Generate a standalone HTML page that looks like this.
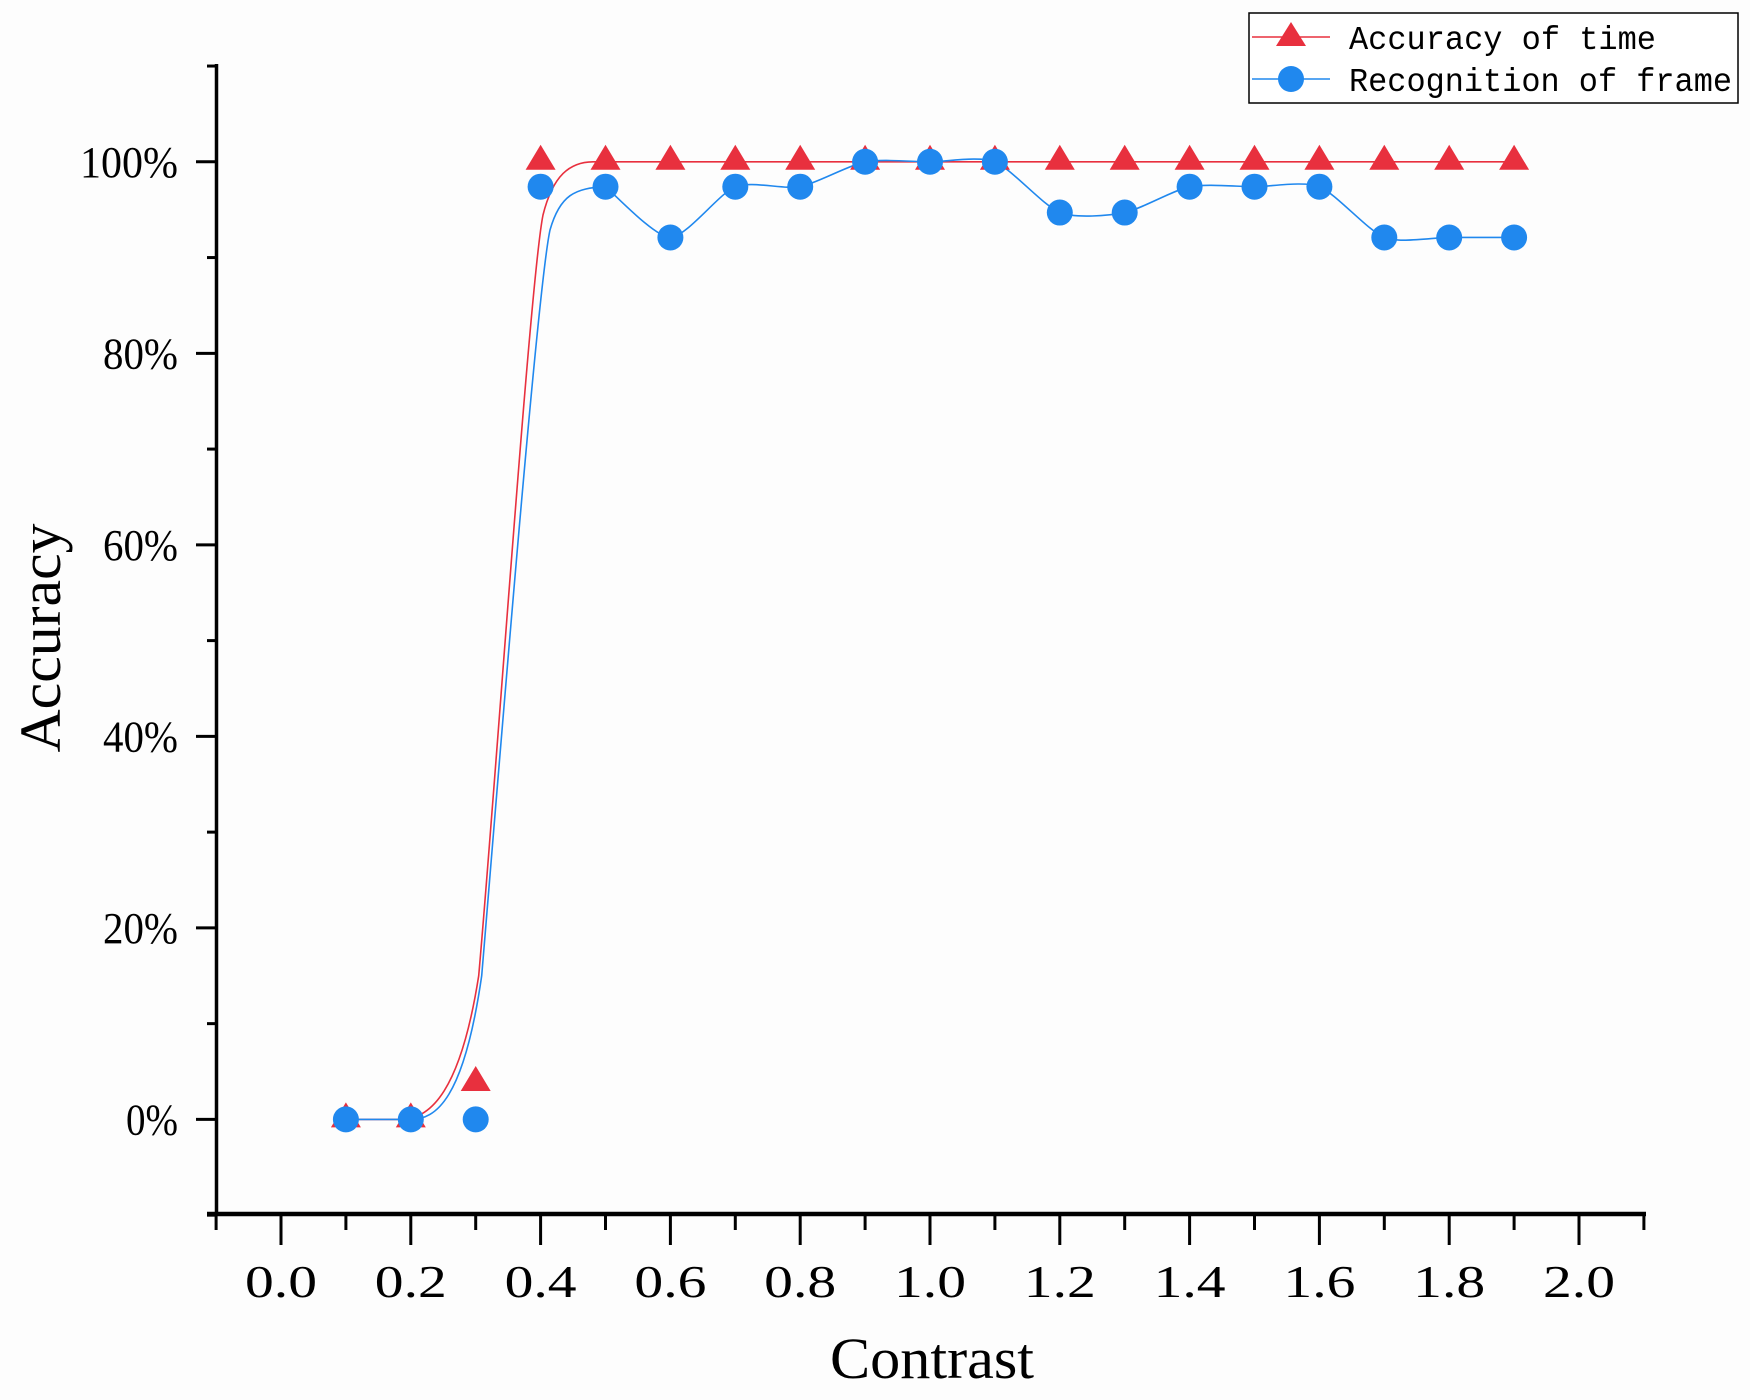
<!DOCTYPE html>
<html><head><meta charset="utf-8"><style>html,body{margin:0;padding:0;background:#fdfdfd}svg{display:block}</style></head>
<body>
<svg id="s" width="1750" height="1400" xmlns="http://www.w3.org/2000/svg">
<rect width="1750" height="1400" fill="#fdfdfd"/>
<g id="ax" stroke="#000" fill="none"></g>
<g id="lbl" font-family="Liberation Serif, serif" fill="#000"></g>
<path id="red" fill="none" stroke="#e8303e" stroke-width="1.6"/>
<path id="blue" fill="none" stroke="#2088ee" stroke-width="1.6"/>
<g id="mk"></g>
<text x="932" y="1378" font-family="Liberation Serif, serif" font-size="58" text-anchor="middle" textLength="204" lengthAdjust="spacingAndGlyphs">Contrast</text>
<text transform="translate(60,638) rotate(-90)" font-family="Liberation Serif, serif" font-size="58" text-anchor="middle" textLength="229" lengthAdjust="spacingAndGlyphs">Accuracy</text>
<rect x="1249" y="13" width="489" height="90" fill="#fff" stroke="#000" stroke-width="1.5"/>
<line x1="1252" y1="37" x2="1330" y2="37" stroke="#e8303e" stroke-width="1.6"/>
<polygon points="1291,22 1306,46 1276,46" fill="#e8303e"/>
<line x1="1252" y1="79" x2="1330" y2="79" stroke="#2088ee" stroke-width="1.6"/>
<circle cx="1291" cy="79" r="13" fill="#2088ee"/>
<text x="1349" y="49" font-family="Liberation Mono, monospace" font-size="33" textLength="307" lengthAdjust="spacingAndGlyphs">Accuracy of time</text>
<text x="1349" y="91" font-family="Liberation Mono, monospace" font-size="33" textLength="383" lengthAdjust="spacingAndGlyphs">Recognition of frame</text>
</svg>
<script>
const NS="http://www.w3.org/2000/svg";
const X=v=>281+649*v, Y=p=>1119.4-9.576*p;
function el(p,t,a,txt){const e=document.createElementNS(NS,t);for(const k in a)e.setAttribute(k,a[k]);if(txt!==undefined)e.textContent=txt;document.getElementById(p).appendChild(e);return e;}
el('ax','line',{x1:216.5,y1:64,x2:216.5,y2:1216,'stroke-width':3.5});
el('ax','line',{x1:207,y1:1214,x2:1646,y2:1214,'stroke-width':4.5});
for(let i=-1;i<=21;i++){const x=X(i/10);const maj=(i%2==0&&i>=0&&i<=20);el('ax','line',{x1:x,y1:1214,x2:x,y2:maj?1245:1230,'stroke-width':3});}
for(let p=-10;p<=110;p+=10){const y=Y(p);const maj=(p%20==0&&p>=0&&p<=100);el('ax','line',{x1:maj?196:207,y1:y,x2:216.5,y2:y,'stroke-width':3});}
for(let p=0;p<=100;p+=20){el('lbl','text',{x:178,y:Y(p)+15,'font-size':44,'text-anchor':'end',textLength:(p==100?98:p==0?52:75),lengthAdjust:'spacingAndGlyphs'},p+'%');}
for(let i=0;i<=10;i++){el('lbl','text',{x:X(i/5),y:1297,'font-size':46,'text-anchor':'middle',textLength:72,lengthAdjust:'spacingAndGlyphs'},(i/5).toFixed(1));}
const xs=[];for(let i=1;i<=19;i++)xs.push(i/10);
const red=[0,0,3.8,100,100,100,100,100,100,100,100,100,100,100,100,100,100,100,100];
const blue=[0,0,0,97.4,97.4,92.1,97.4,97.4,100,100,100,94.7,94.7,97.4,97.4,97.4,92.1,92.1,92.1];
document.getElementById('red').setAttribute('d',
`M${X(.1)} ${Y(0)} L${X(.2)-10} ${Y(0)} C${X(.2)+20} ${Y(0)}, ${X(.3)-15} ${Y(3)}, ${X(.3)+3} ${Y(15)} C${X(.3)+20} ${Y(35)}, 530 280, 543 215 C553 175, 570 162, 593 ${Y(100)} L${X(1.9)} ${Y(100)}`);
let pts=[];for(let i=4;i<19;i++)pts.push([X(xs[i]),Y(blue[i])]);
let d=`M${X(.1)} ${Y(0)} L${X(.2)} ${Y(0)} C${X(.2)+25} ${Y(0)}, ${X(.3)-12} ${Y(2)}, ${X(.3)+6} ${Y(15)} C${X(.3)+22} ${Y(35)}, 537 290, 550 230 C560 195, 575 188, ${pts[0][0]} ${pts[0][1]}`;
for(let i=0;i<pts.length-1;i++){const p0=pts[Math.max(0,i-1)],p1=pts[i],p2=pts[i+1],p3=pts[Math.min(pts.length-1,i+2)];
const t=0.12;
d+=` C${p1[0]+(p2[0]-p0[0])*t} ${p1[1]+(p2[1]-p0[1])*t}, ${p2[0]-(p3[0]-p1[0])*t} ${p2[1]-(p3[1]-p1[1])*t}, ${p2[0]} ${p2[1]}`;}
document.getElementById('blue').setAttribute('d',d);
for(let i=0;i<19;i++){const x=X(xs[i]),y=Y(red[i]);el('mk','polygon',{points:`${x},${y-17} ${x+15},${y+8} ${x-15},${y+8}`,fill:'#e8303e'});}
for(let i=0;i<19;i++){el('mk','circle',{cx:X(xs[i]),cy:Y(blue[i]),r:13,fill:'#2088ee'});}
</script>
</body></html>
